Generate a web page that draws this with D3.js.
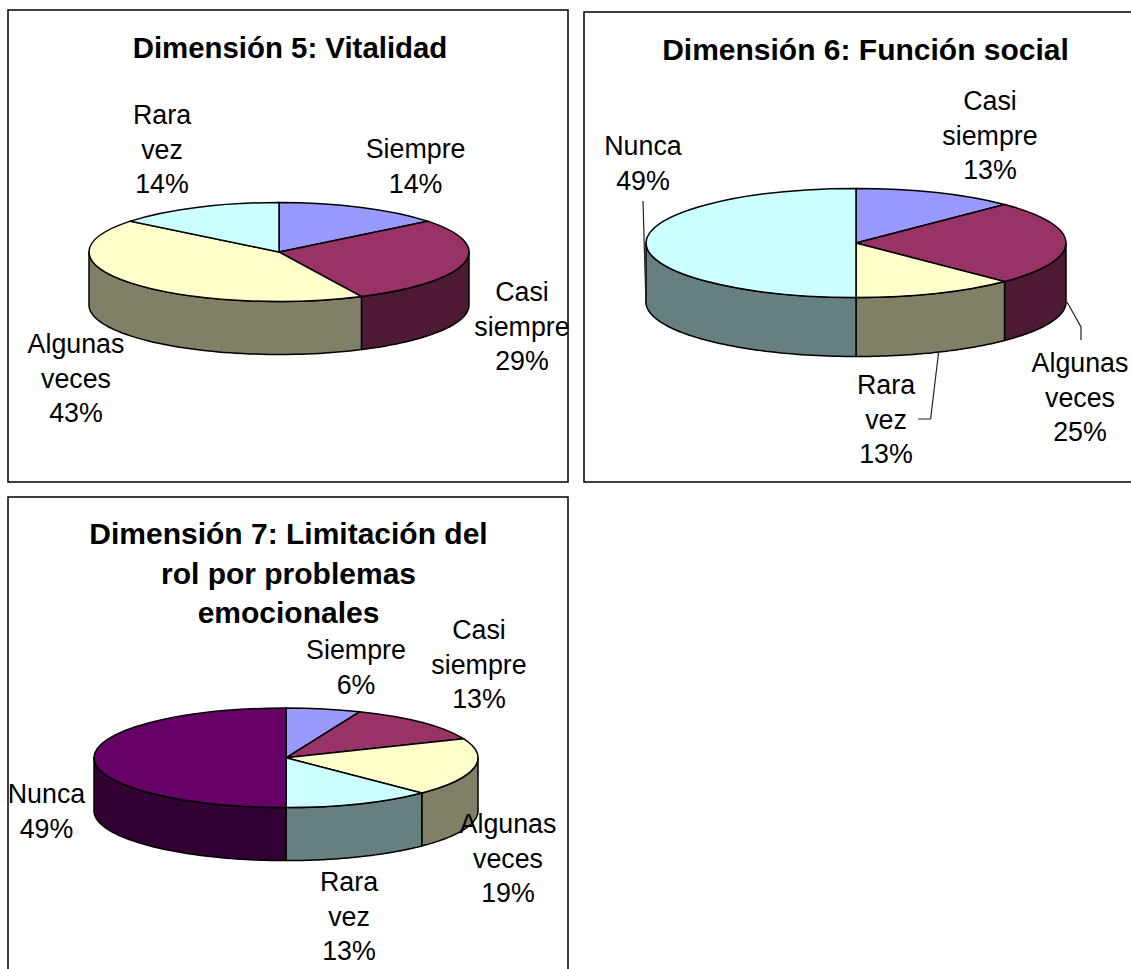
<!DOCTYPE html>
<html><head><meta charset="utf-8">
<script src="https://cdnjs.cloudflare.com/ajax/libs/d3/7.8.5/d3.min.js"></script>
<style>html,body{margin:0;padding:0;background:#fff}svg{display:block}text{font-family:"Liberation Sans",Arial,sans-serif;fill:#000}</style>
</head><body><svg id="c" width="1131" height="969"></svg>
<script>
// Data
const titles5 = ["Dimensión 5: Vitalidad"];
const cats5 = [["Siempre"], ["Casi","siempre"], ["Algunas","veces"], ["Rara","vez"]];
const vals5 = [14.29, 28.57, 42.86, 14.29];
const pct5 = ["14%", "29%", "43%", "14%"];

const titles6 = ["Dimensión 6: Función social"];
const cats6 = [["Casi","siempre"], ["Algunas","veces"], ["Rara","vez"], ["Nunca"]];
const vals6 = [12.5, 25, 12.5, 50];
const pct6 = ["13%", "25%", "13%", "49%"];

const titles7 = ["Dimensión 7: Limitación del", "rol por problemas", "emocionales"];
const cats7 = [["Siempre"], ["Casi","siempre"], ["Algunas","veces"], ["Rara","vez"], ["Nunca"]];
const vals7 = [6.25, 12.5, 18.75, 12.5, 50];
const pct7 = ["6%", "13%", "19%", "13%", "49%"];

const palette = ["#9999FF", "#993366", "#FFFFCC", "#CCFFFF", "#660066"];
const sidePalette = ["#4D4D80", "#4D1933", "#808066", "#668080", "#330033"];

// Layout (pixel placement only)
const layouts = [
 {box:[8,10,560,472], cx:279, cy:252, rx:190, ry:49.5, depth:53, titleX:290, titleY:[57.5], titleSize:29.4,
  lab:[[415.6,158],[522,301],[76,353],[162,124]], leaders:[]},
 {box:[584,12,560,470], cx:856, cy:243, rx:210, ry:54.5, depth:59, titleX:865.5, titleY:[59.5], titleSize:30,
  lab:[[990,110],[1080,372],[886,394],[643,155]],
  leaders:[[[1067,302],[1081,327],[1081,340]],[[938.5,353],[930.6,419],[918,419]],[[643,201],[646,305]]]},
 {box:[8,497,560,490], cx:286, cy:757.8, rx:192, ry:49.8, depth:53, titleX:288.5, titleY:[544,583.5,622.5], titleSize:30,
  lab:[[356,659],[479,639],[508,833],[349,891],[46.5,803]], leaders:[]}
];
const charts = [
 {titles:titles5, cats:cats5, vals:vals5, pct:pct5},
 {titles:titles6, cats:cats6, vals:vals6, pct:pct6},
 {titles:titles7, cats:cats7, vals:vals7, pct:pct7}
];

const svg = d3.select("#c");
const pie = d3.pie().sort(null).value(d=>d);
const labelSize = 26.8, lineH = 34.7;

charts.forEach((ch,ci)=>{
  const L = layouts[ci];
  const g = svg.append("g");
  g.append("rect").attr("x",L.box[0]).attr("y",L.box[1]).attr("width",L.box[2]).attr("height",L.box[3])
    .attr("fill","#fff").attr("stroke","#000").attr("stroke-width",1.5);

  const arcs = pie(ch.vals);
  const sx = d3.scaleLinear().domain([-1,1]).range([L.cx-L.rx,L.cx+L.rx]);
  const sy = d3.scaleLinear().domain([-1,1]).range([L.cy-L.ry,L.cy+L.ry]);
  const line = d3.line().x(d=>d[0]).y(d=>d[1]);

  // side walls: only the front half of the rim (pi/2 .. 3pi/2) is visible
  arcs.forEach((a,i)=>{
    const a0 = Math.max(a.startAngle, Math.PI/2), a1 = Math.min(a.endAngle, 3*Math.PI/2);
    if(a1<=a0) return;
    const angs = d3.range(0,61).map(k=>a0+(a1-a0)*k/60);
    const top = angs.map(t=>[sx(Math.sin(t)), sy(-Math.cos(t))]);
    const bot = top.slice().reverse().map(p=>[p[0],p[1]+L.depth]);
    g.append("path").attr("d",line(top.concat(bot))+"Z")
      .attr("fill",sidePalette[i]).attr("stroke","#000").attr("stroke-width",1.5).attr("stroke-linejoin","round");
  });

  // top face
  const arc = d3.arc().innerRadius(0).outerRadius(1);
  const top = g.append("g").attr("transform",`translate(${L.cx},${L.cy}) scale(${L.rx},${L.ry})`);
  top.selectAll("path").data(arcs).join("path")
    .attr("d",arc).attr("fill",(d,i)=>palette[i])
    .attr("stroke","#000").attr("stroke-width",1.5).attr("vector-effect","non-scaling-stroke");

  // leader lines
  L.leaders.forEach(pts=>{
    g.append("path").attr("d",line(pts)).attr("fill","none").attr("stroke","#222").attr("stroke-width",1.2);
  });

  // title
  ch.titles.forEach((t,i)=>{
    g.append("text").attr("x",L.titleX).attr("y",L.titleY[i]).attr("text-anchor","middle")
      .attr("font-weight","bold").attr("font-size",L.titleSize).text(t);
  });
  // labels
  ch.cats.forEach((lines,i)=>{
    const [x,y]=L.lab[i];
    lines.concat([ch.pct[i]]).forEach((t,k)=>{
      g.append("text").attr("x",x).attr("y",y+k*lineH).attr("text-anchor","middle")
        .attr("font-size",labelSize).text(t);
    });
  });
});
</script></body></html>
